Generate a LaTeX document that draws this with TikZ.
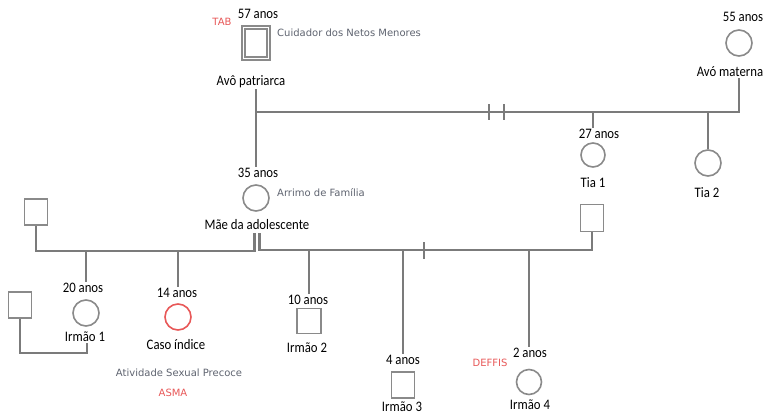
\documentclass[tikz,border=0pt]{standalone}
\usepackage{fontspec}
\setmainfont{Carlito}[FakeStretch=0.88]
\newfontfamily\notefont{DejaVu Sans}
\definecolor{linec}{HTML}{7B7B7B}
\definecolor{symc}{HTML}{8A8A8A}
\definecolor{redc}{HTML}{E85858}
\definecolor{notec}{HTML}{5F6470}
\tikzset{
  ln/.style={draw=linec, line width=2.6pt},
  hatch/.style={draw=linec, line width=2pt},
  fem/.style={circle, draw=symc, line width=1.6pt, minimum size=26pt, inner sep=0pt},
  mal/.style={rectangle, draw=symc, line width=1.6pt, minimum width=23pt, minimum height=26pt, inner sep=0pt},
  txt/.style={font=\fontsize{14.5}{16}\selectfont, inner sep=1pt},
  note/.style={font=\notefont\fontsize{10}{12}\selectfont, text=notec, inner sep=0pt, anchor=west},
  rnote/.style={font=\notefont\fontsize{10}{12}\selectfont, text=redc, inner sep=0pt}
}
\begin{document}
\begin{tikzpicture}[x=1pt,y=-1pt]
\fill[white] (0,0) rectangle (768,416);
\useasboundingbox (0,0) rectangle (768,416);
% grandparents
\node[mal, minimum width=28pt, minimum height=34pt] (avo) at (256,43) {};
\node[mal, minimum width=22pt, minimum height=28pt] (avoin) at (256,43) {};
\node[txt] (avoAge) at (258,14) {57 anos};
\node[rnote] (tab) at (222,22) {TAB};
\node[note] (avoNote) at (277,33) {Cuidador dos Netos Menores};
\node[txt] (avoL) at (251,82) {Avô patriarca};
\node[fem] (avom) at (739,43) {};
\node[txt] (avomAge) at (743,17) {55 anos};
\node[txt] (avomL) at (730,72) {Avó materna};
\coordinate (top) at (0,112);
% aunts
\node[fem, minimum size=24pt] (tia1) at (593,155) {};
\node[txt] (tia1Age) at (599,134) {27 anos};
\node[txt] (tia1L) at (593,183) {Tia 1};
\node[fem] (tia2) at (708,163) {};
\node[txt] (tia2L) at (707,193) {Tia 2};
% mother
\node[fem] (mae) at (256,198) {};
\node[txt] (maeAge) at (258,173) {35 anos};
\node[note] (maeNote) at (277,193) {Arrimo de Família};
\node[txt] (maeL) at (257,225) {Mãe da adolescente};
% partners
\node[mal] (pai1) at (36,212) {};
\node[mal, minimum height=27pt] (pai2) at (592,218) {};
\coordinate (lu) at (0,251);
\coordinate (ru) at (0,250);
% children
\node[fem] (i1) at (86,313) {};
\node[txt] (i1Age) at (83,288) {20 anos};
\node[txt] (i1L) at (85,337) {Irmão 1};
\node[mal] (i1p) at (20,305) {};
\coordinate (pl) at (0,353);
\node[fem, draw=redc] (caso) at (178,317) {};
\node[txt] (casoAge) at (177,293) {14 anos};
\node[txt] (casoL) at (176,345) {Caso índice};
\node[note, anchor=center] (casoNote) at (179,373) {Atividade Sexual Precoce};
\node[rnote] (asma) at (173,393) {ASMA};
\node[mal, minimum width=24pt, minimum height=25pt] (i2) at (309,321) {};
\node[txt] (i2Age) at (308,300) {10 anos};
\node[txt] (i2L) at (307,348) {Irmão 2};
\node[mal, minimum width=23pt, minimum height=26pt] (i3) at (403,385) {};
\node[txt] (i3Age) at (403,360) {4 anos};
\node[txt] (i3L) at (402,407) {Irmão 3};
\node[fem, minimum size=25pt] (i4) at (529,382) {};
\node[txt] (i4Age) at (530,353) {2 anos};
\node[rnote] (deffis) at (490,363) {DEFFIS};
\node[txt] (i4L) at (530,405) {Irmão 4};
% connectors
\draw[ln] (avo |- avoL.south) -- (avo |- maeAge.north);
\draw[ln] (avo |- top) -- (avom |- top) -- (avom |- avomL.south);
\draw[hatch] (489,104) -- (489,120);
\draw[hatch] (504,104) -- (504,120);
\draw[ln] (tia1 |- top) -- (tia1 |- tia1Age.north);
\draw[ln] (tia2 |- top) -- (tia2.north);
\draw[ln] ([xshift=-2.5pt,yshift=-2pt]maeL.south) |- (pai1 |- lu) -- (pai1.south);
\draw[ln] ([xshift=2.5pt,yshift=-2pt]maeL.south) |- (pai2 |- ru) -- (pai2.south);
\draw[hatch] (424,242) -- (424,259);
\draw[ln] (i1 |- lu) -- (i1 |- i1Age.north);
\draw[ln] (caso |- lu) -- (caso |- casoAge.north);
\draw[ln] (i1p.south) |- ([xshift=2pt]i1L.south |- pl) -- ([xshift=2pt]i1L.south);
\draw[ln] (i2 |- ru) -- (i2 |- i2Age.north);
\draw[ln] (i3 |- ru) -- (i3 |- i3Age.north);
\draw[ln] (i4 |- ru) -- (i4 |- i4Age.north);
\end{tikzpicture}
\end{document}
